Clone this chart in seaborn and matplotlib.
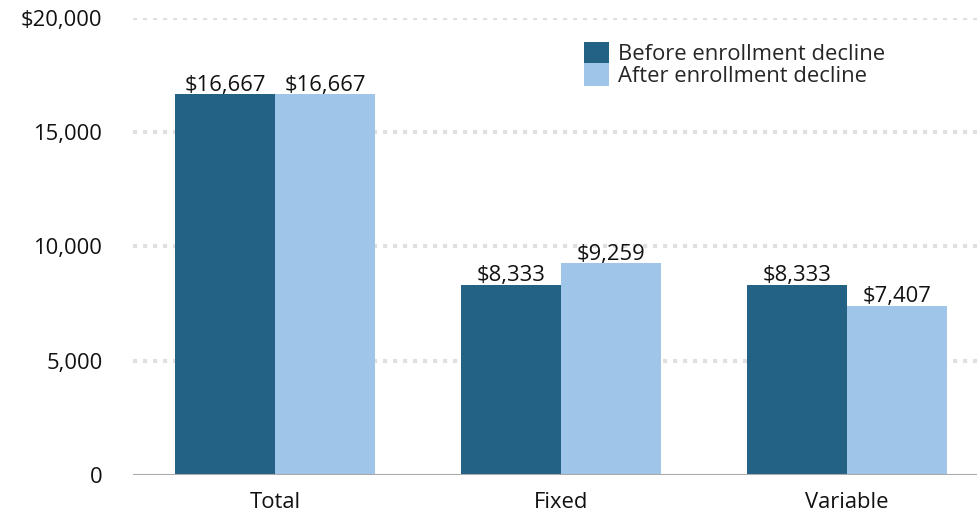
import matplotlib
matplotlib.use("Agg")
import matplotlib.pyplot as plt
import seaborn as sns
import pandas as pd
from matplotlib.patches import Patch

categories = ["Total", "Fixed", "Variable"]
series = ["Before enrollment decline", "After enrollment decline"]
before = [16667, 8333, 8333]
after = [16667, 9259, 7407]
yticks = [0, 5000, 10000, 15000, 20000]
ytick_labels = ["0", "5,000", "10,000", "15,000", "$20,000"]
colors = ["#246285", "#9fc5e8"]

df = pd.DataFrame({
    "category": categories * 2,
    "series": [series[0]] * 3 + [series[1]] * 3,
    "value": before + after,
})

sns.set_style("white")
plt.rcParams["font.family"] = ["Open Sans", "DejaVu Sans"]
FS = 15.8

fig = plt.figure(figsize=(9.77, 5.13), dpi=100)
ax = fig.add_axes([0.136, 0.074, 0.864, 0.891])
sns.barplot(data=df, x="category", y="value", hue="series", palette=colors,
            width=0.7, saturation=1, linewidth=0, ax=ax, legend=False)

for c in ax.containers:
    ax.bar_label(c, labels=[f"${v:,.0f}" for v in c.datavalues], padding=-1,
                 fontsize=FS, color="#111111")

ax.set_ylim(0, 20000)
ax.set_xlim(-0.497, 2.455)
ax.set_yticks(yticks)
ax.set_yticklabels(ytick_labels, fontsize=FS, color="#111111")
ax.tick_params(axis="x", labelsize=FS, colors="#111111", length=0, pad=12)
ax.tick_params(axis="y", length=0, pad=22)
for lab in ax.get_yticklabels():
    lab.set_horizontalalignment("right")
ax.set_xlabel("")
ax.set_ylabel("")
for s in ax.spines.values():
    s.set_visible(False)
for y in yticks[1:]:
    ax.axhline(y, color="#e0e0e0", linewidth=3, linestyle=(0, (1.0, 1.4)), zorder=0)
ax.axhline(0, color="#aaaaaa", linewidth=1.5, zorder=3)

handles = [Patch(facecolor=colors[0], linewidth=0), Patch(facecolor=colors[1], linewidth=0)]
ax.legend(handles, series, loc="upper left", bbox_to_anchor=(0.522, 0.972),
          frameon=False, fontsize=FS, handlelength=1.1, handleheight=1.2,
          handletextpad=0.45, labelspacing=-0.1, borderpad=0)

fig.savefig("out.png", dpi=100)
